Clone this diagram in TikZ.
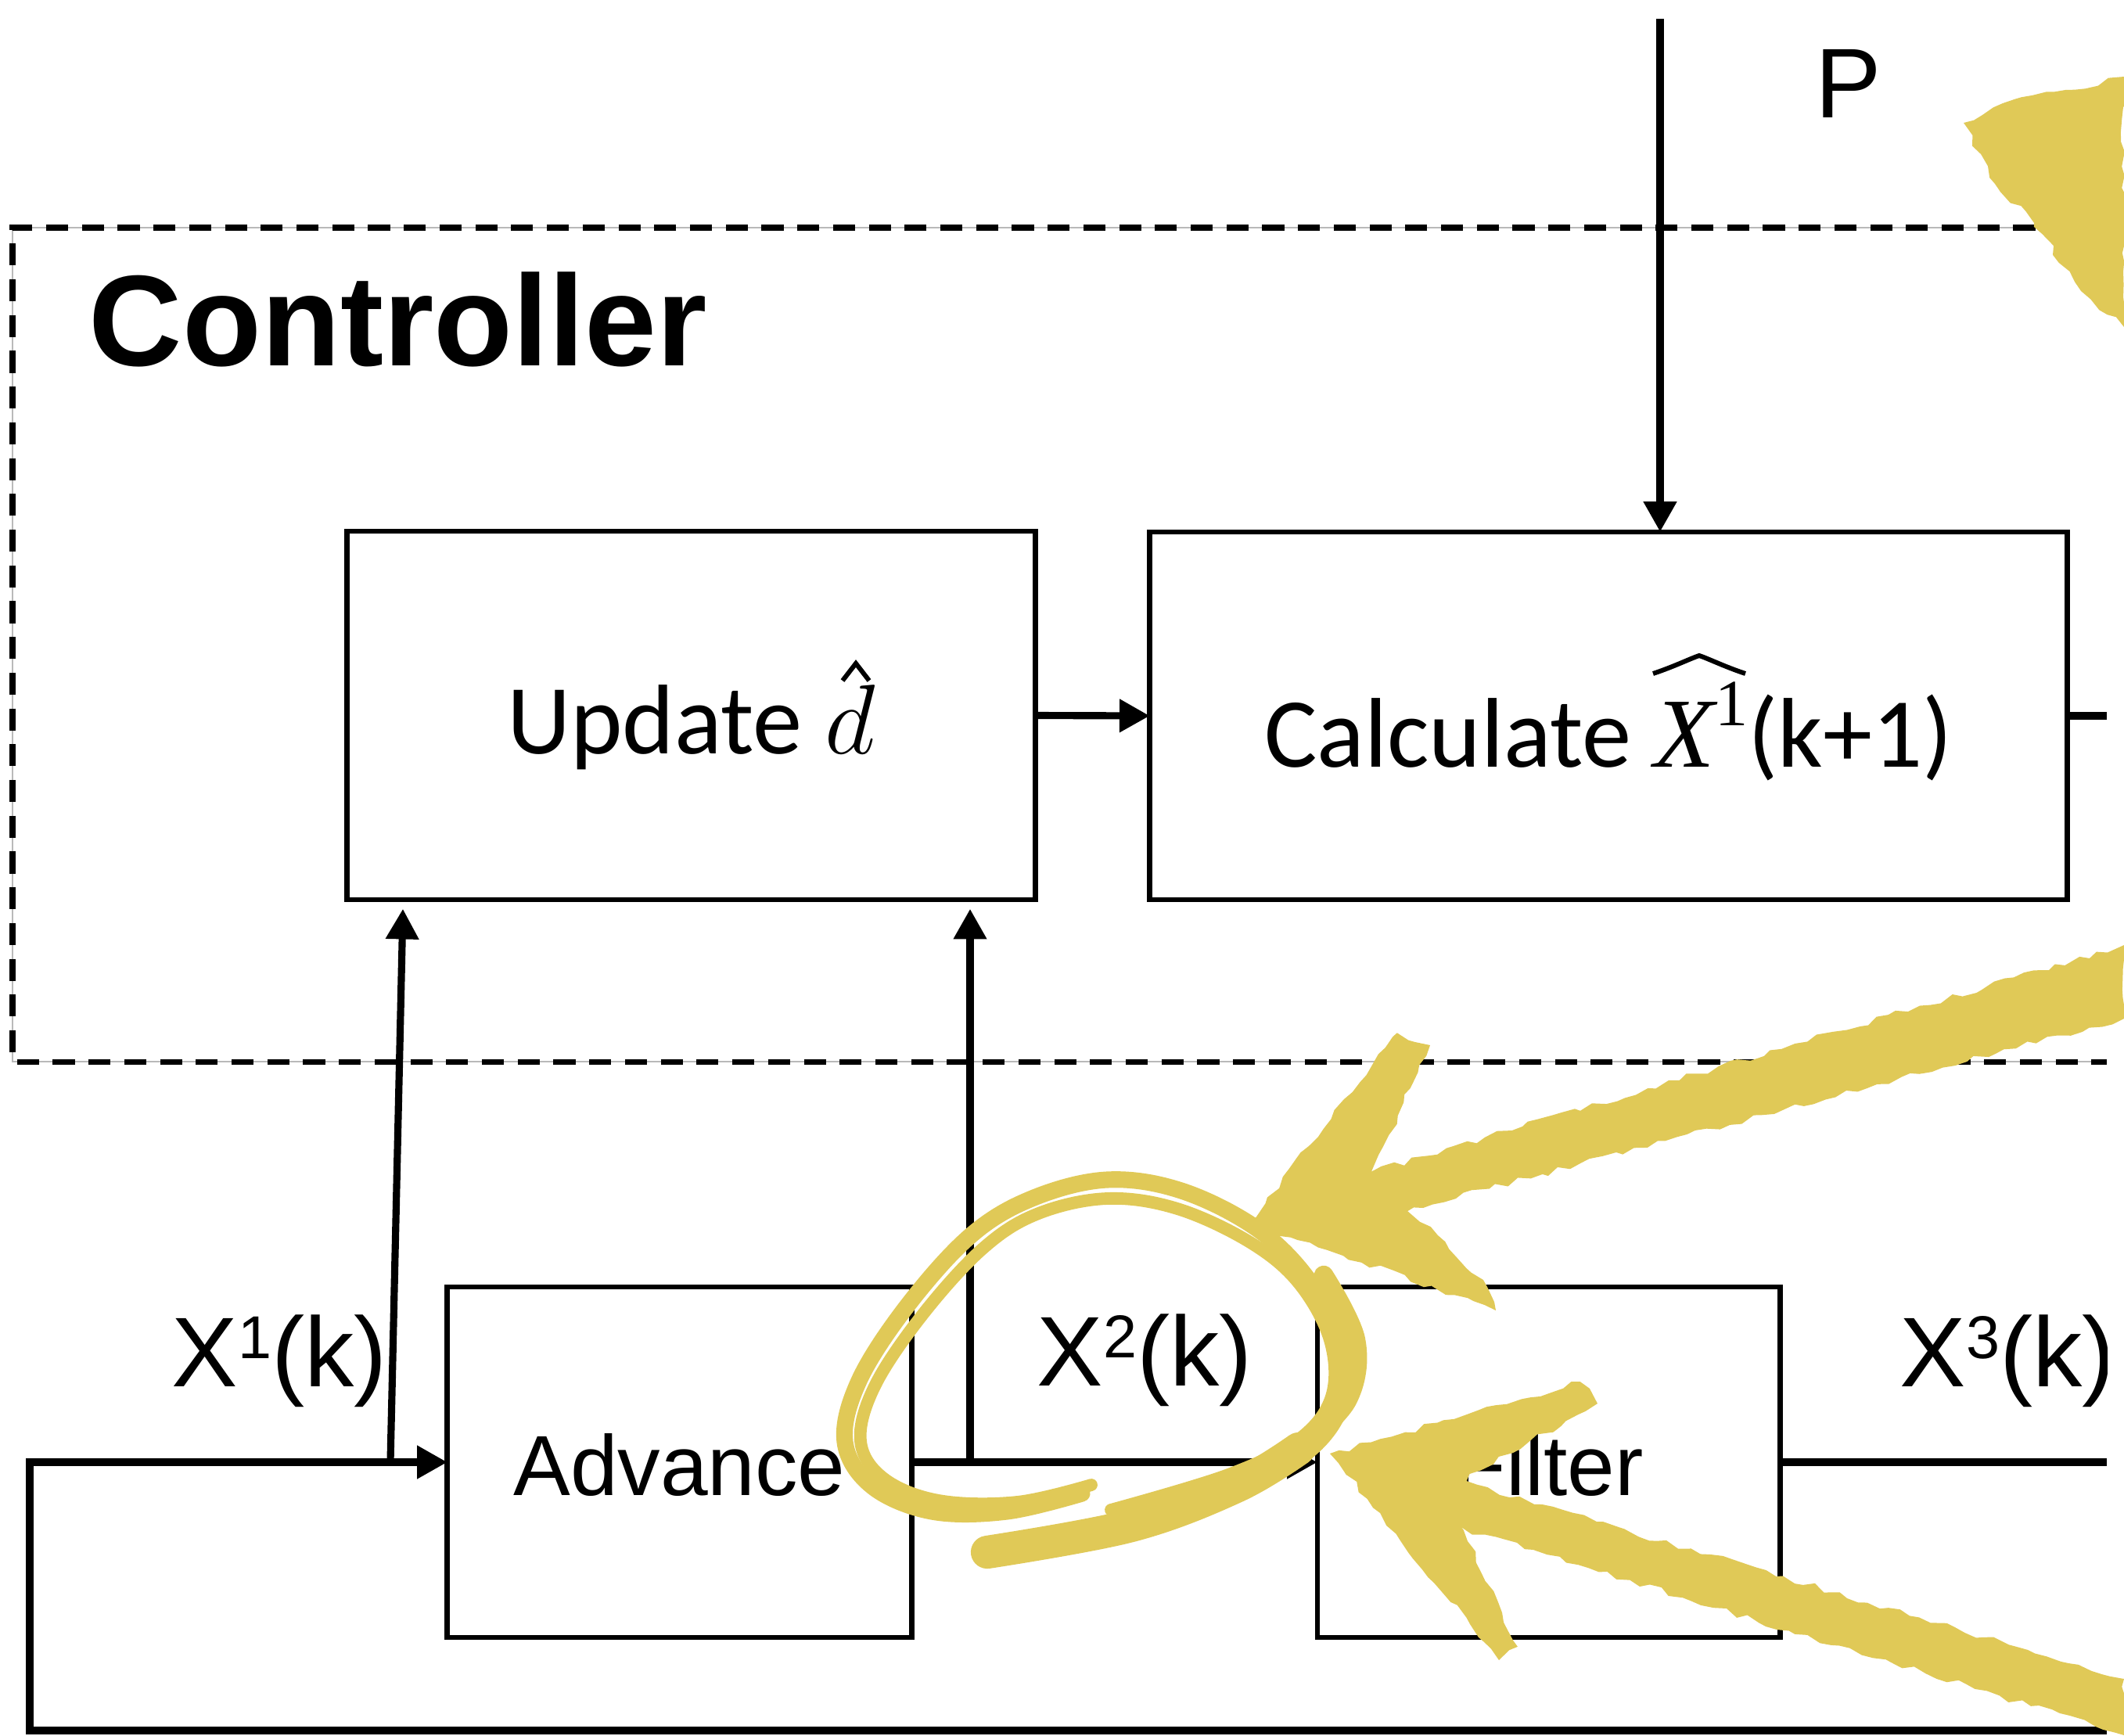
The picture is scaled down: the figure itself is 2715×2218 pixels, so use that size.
\RequirePackage{fix-cm}
\documentclass[tikz,border=0pt]{standalone}
\usepackage[no-math]{fontspec}
\setmainfont{Liberation Sans}
\newfontfamily\calibri{Carlito}
\newfontfamily\serifface{Liberation Serif}
\usetikzlibrary{arrows.meta,decorations.pathmorphing}
\definecolor{chalk}{RGB}{224,201,87}
% raised index digit for the signal labels
\newcommand\upidx[1]{\raisebox{10pt}{\fontsize{22}{22}\selectfont #1}}
\begin{document}
\begin{tikzpicture}[x=0.01cm,y=-0.01cm,
  box/.style={draw, line width=1.9pt, inner sep=0pt, outer sep=0pt},
  sig/.style={line width=2.6pt},
  arr/.style={sig, -{Triangle[length=11pt,width=11.5pt]}},
  lbl/.style={inner sep=0pt, font=\fontsize{36}{40}\selectfont},
  dashbox/.style={line width=2pt, dash pattern=on 8pt off 5pt},
  accent/.style={line width=1.7pt, line join=miter, line cap=butt},
  rough/.style={decorate, decoration={random steps, segment length=4pt, amplitude=1.2pt}},
  chalkline/.style={draw=chalk, line cap=round, line join=round}]
\pgfmathsetseed{11}
\useasboundingbox (0,0) rectangle (2715,2218);

\begin{scope}
\clip (0,0) rectangle (2693,2218);

% controller frame
\draw[line width=0.5pt, gray!55] (2693,291) -- (16,291) -- (16,1357) -- (2693,1357);
\draw[dashbox] (2693,291) -- (16,291) -- (16,1357) -- (2693,1357);
\node[anchor=base west, inner sep=0pt, font=\bfseries\fontsize{47}{50}\selectfont] (ctl) at (113,467) {Controller};

% blocks
\node[box, minimum width=8.79cm, minimum height=4.71cm, text height=30pt, text depth=2pt,
      font=\calibri\fontsize{36}{42}\selectfont] (upd) at (883.5,914.5) {Update $d$};
\node[box, minimum width=11.72cm, minimum height=4.70cm, text height=40pt, text depth=3pt,
      font=\calibri\fontsize{36}{42}\selectfont] (calc) at (2056,915)
  {Calculate {\serifface\itshape X}\raisebox{15pt}{\fontsize{24}{24}\selectfont\serifface 1}(k+1)};
\node[box, minimum width=5.93cm, minimum height=4.48cm, text height=26pt, text depth=1.6pt,
      font=\fontsize{31}{36}\selectfont] (adv) at (868.5,1869) {Advance};
\node[box, minimum width=5.91cm, minimum height=4.48cm, text height=26pt, text depth=1.6pt,
      font=\fontsize{31}{36}\selectfont] (filt) at (1979.5,1869) {Filter};

% estimate accents
\draw[accent] (1077,870) -- (1094,848) -- (1111,870);
\draw[accent] (2113,861) .. controls (2140,852) and (2160,842) .. (2172,838)
  .. controls (2184,842) and (2204,852) .. (2231,861);

% signal labels
\node[lbl, anchor=base west] (p) at (2320,150) {P};
\node[lbl, anchor=base west] (x1) at (219,1772) {X\upidx{1}(k)};
\node[lbl, anchor=base west] (x2) at (1325,1771) {X\upidx{2}(k)};
\node[lbl, anchor=base west] (x3) at (2428,1772) {X\upidx{3}(k)};

% connector end points
\coordinate (ptop) at (2122,24);
\coordinate (cout) at (2693,915);
\coordinate (fbL) at (38,1869);
\coordinate (fbR) at (2693,2212);
\coordinate (xout) at (2693,1869);
\coordinate (j1) at (499,1869);
\coordinate (j2) at (1240,1869);

% connectors
\draw[arr] (ptop) -- (ptop |- calc.north);
\draw[arr] (upd.east) -- (calc.west);
\draw[sig] (calc.east) -- (cout);
\draw[arr] (fbR) -| (fbL) -- (adv.west);
\draw[arr] (adv.east) -- (filt.west);
\draw[sig] (filt.east) -- (xout);
\draw[arr, shorten >=3.3pt] (j1) -- ([xshift=0.715cm]upd.south west);
\draw[arr, shorten >=3.3pt] (j2) -- (j2 |- upd.south);
\end{scope}

% hand-drawn highlight: loop around X2(k)
\draw[chalkline, line width=6pt] plot[smooth, tension=0.6] coordinates {
  (1255,1984) (1446,1942) (1574,1903) (1670,1856) (1716,1791) (1712,1713)
  (1672,1635) (1606,1570) (1510,1522) (1415,1508) (1319,1532) (1240,1580)
  (1159,1670) (1098,1765) (1080,1843) (1115,1900) (1191,1932) (1287,1932) (1383,1909)};
\draw[chalkline, line width=4.5pt] plot[smooth, tension=0.6] coordinates {
  (1420,1930) (1570,1885) (1660,1840) (1702,1785) (1700,1713) (1660,1640)
  (1598,1588) (1505,1545) (1415,1532) (1325,1552) (1255,1597) (1178,1682)
  (1118,1772) (1100,1842) (1130,1890) (1200,1918) (1300,1920) (1395,1898)};
\draw[chalkline, line width=12pt] plot[smooth, tension=0.6] coordinates {
  (1262,1984) (1446,1950) (1580,1900) (1660,1852)};
\draw[chalkline, line width=7pt] plot[smooth, tension=0.6] coordinates {
  (1660,1852) (1722,1790) (1733,1713) (1692,1630)};

% hand-drawn arrow towards the X2 / Filter corner
\fill[chalk, rough] (2715,1208) -- (2715,1302) -- (1700,1574) -- (1700,1514) -- cycle;
\fill[chalk, rough] (1598,1562) -- (1786,1320) -- (1828,1336) -- (1752,1500)
  -- (1896,1636) -- (1912,1675) -- cycle;

% hand-drawn arrow towards the Filter input
\fill[chalk, rough] (2715,2146) -- (2715,2218) -- (1850,1948) -- (1850,1888) -- cycle;
\fill[chalk, rough] (1700,1858) -- (2020,1766) -- (2042,1794) -- (1848,1905)
  -- (1940,2105) -- (1916,2122) -- cycle;

% hand-drawn arrow head near P
\fill[chalk, rough] (2510,157) -- (2560,132) -- (2640,115) -- (2715,98) -- (2715,418)
  -- (2660,372) -- (2600,285) -- (2550,235) -- cycle;
\end{tikzpicture}
\end{document}
